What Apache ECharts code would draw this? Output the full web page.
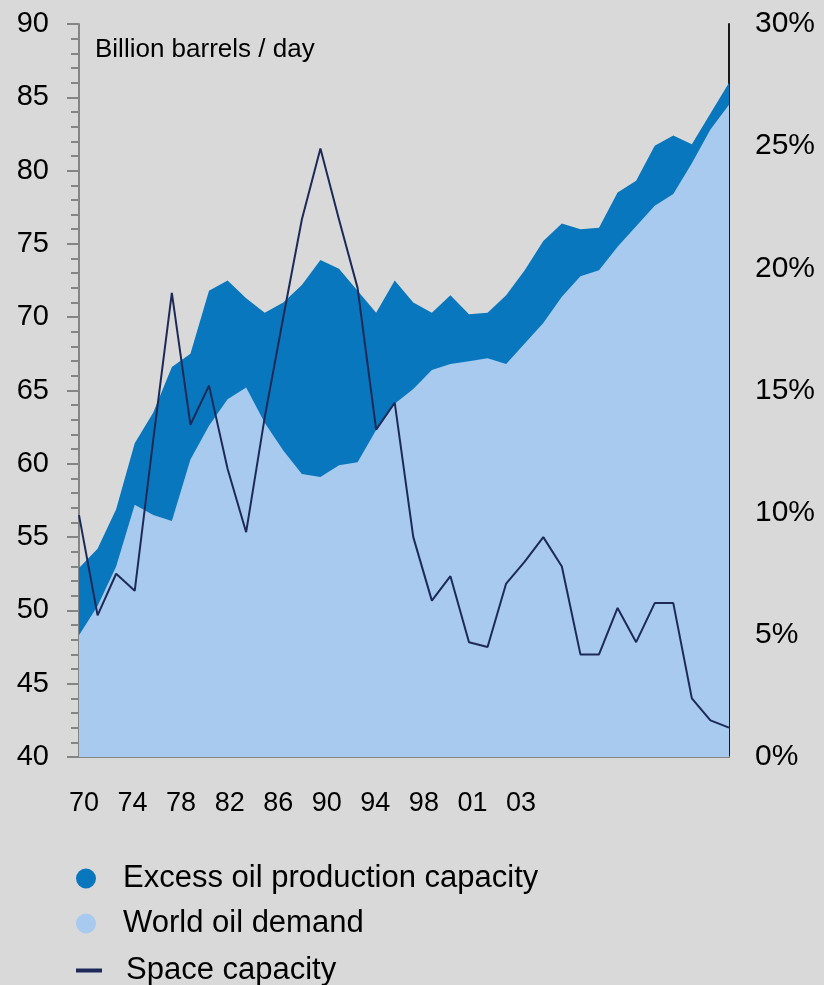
<!DOCTYPE html>
<html>
<head>
<meta charset="utf-8">
<script src="https://cdn.jsdelivr.net/npm/echarts@6/dist/echarts.min.js"></script>
<style>
  html, body { margin: 0; padding: 0; background: #d9d9d9; }
  #chart { width: 824px; height: 985px; }
</style>
</head>
<body>
<div id="chart"></div>
<script>
// yearly points 1970 - 2005
let years = [];
for (let y = 1970; y <= 2005; y++) years.push(String(y));

// world oil demand (left axis)
let demand = [48.3, 50.3, 53.0, 57.2, 56.5, 56.1, 60.3, 62.6, 64.4, 65.2,
    62.8, 60.9, 59.3, 59.1, 59.9, 60.1, 62.3, 64.1, 65.1, 66.4,
    66.8, 67.0, 67.2, 66.8, 68.2, 69.6, 71.4, 72.8, 73.2, 74.8,
    76.2, 77.6, 78.4, 80.5, 82.8, 84.5];

// top of the excess capacity band (demand + excess)
let capacity = [52.9, 54.2, 56.9, 61.4, 63.5, 66.6, 67.5, 71.8, 72.5, 71.3,
    70.3, 71.0, 72.2, 73.9, 73.3, 71.8, 70.3, 72.5, 71.0, 70.3,
    71.5, 70.2, 70.3, 71.5, 73.2, 75.2, 76.4, 76.0, 76.1, 78.5,
    79.3, 81.7, 82.4, 81.8, 83.9, 86.0];

// spare capacity, % (right axis)
let spare = [9.9, 5.8, 7.5, 6.8, 13.0, 19.0, 13.6, 15.2, 11.8, 9.2,
    13.9, 18.0, 22.0, 24.9, 22.0, 19.2, 13.4, 14.5, 9.0, 6.4,
    7.4, 4.7, 4.5, 7.1, 8.0, 9.0, 7.8, 4.2, 4.2, 6.1,
    4.7, 6.3, 6.3, 2.4, 1.5, 1.2];

let xTickLabels = ['70', '74', '78', '82', '86', '90', '94', '98', '01', '03'];

let legendNames = ['Excess oil production capacity', 'World oil demand', 'Space capacity'];

let colors = { excess: '#0877bd', demand: '#a8caef', line: '#1d2a58', axis: '#858585' };
let font = '"Liberation Sans", Arial, sans-serif';

let chart = echarts.init(document.getElementById('chart'));

// one legend per row, so nothing wraps
function legendRow(name, icon, top) {
    return {
        orient: 'vertical',
        left: 71,
        top: top,
        itemWidth: 26,
        itemHeight: 20,
        textStyle: { fontSize: 31, color: '#000', padding: [0, 0, 0, 19] },
        data: [{ name: name, icon: icon }]
    };
}

let option = {
    backgroundColor: '#d9d9d9',
    animation: false,
    textStyle: { fontFamily: font, color: '#000' },
    grid: [
        { left: 79, right: 95, top: 24, bottom: 228 },
        // only carries the evenly spaced year labels
        { left: 84, right: 303, top: 24, bottom: 228 }
    ],
    legend: [
        legendRow(legendNames[0], 'circle', 858),
        legendRow(legendNames[1], 'circle', 903),
        legendRow(legendNames[2], 'path://M0,0H26V4H0Z', 950)
    ],
    graphic: [{
        type: 'text',
        left: 95,
        top: 37,
        style: { text: 'Billion barrels / day', font: '26px ' + font, fill: '#000' }
    }],
    xAxis: [{
        type: 'category',
        gridIndex: 0,
        data: years,
        boundaryGap: false,
        axisLine: { lineStyle: { color: colors.axis, width: 2 } },
        axisTick: { show: false },
        axisLabel: { show: false }
    }, {
        type: 'category',
        gridIndex: 1,
        data: xTickLabels,
        boundaryGap: false,
        axisLine: { show: false },
        axisTick: { show: false },
        axisLabel: {
            interval: 0,
            margin: 33,
            fontSize: 27,
            fontFamily: '"Liberation Sans Narrow", "Arial Narrow", ' + font,
            color: '#000'
        }
    }],
    yAxis: [{
        type: 'value',
        gridIndex: 0,
        min: 40,
        max: 90,
        interval: 5,
        splitLine: { show: false },
        axisLine: { show: true, lineStyle: { color: colors.axis, width: 2 } },
        axisTick: { show: true, length: 12, lineStyle: { color: colors.axis, width: 2 } },
        minorTick: { show: true, splitNumber: 5, length: 8, lineStyle: { color: colors.axis, width: 2 } },
        axisLabel: { fontSize: 29, margin: 30, color: '#000' }
    }, {
        type: 'value',
        gridIndex: 0,
        position: 'right',
        min: 0,
        max: 30,
        interval: 5,
        splitLine: { show: false },
        axisLine: { show: true, lineStyle: { color: '#1a1a1a', width: 2 } },
        axisTick: { show: false },
        axisLabel: { fontSize: 30, margin: 26, color: '#000', formatter: '{value}%' }
    }, {
        type: 'value',
        gridIndex: 1,
        show: false
    }],
    series: [{
        name: legendNames[0],
        type: 'line',
        xAxisIndex: 0,
        yAxisIndex: 0,
        data: capacity,
        symbol: 'none',
        color: colors.excess,
        lineStyle: { width: 0 },
        areaStyle: { color: colors.excess, opacity: 1 },
        z: 1
    }, {
        name: legendNames[1],
        type: 'line',
        xAxisIndex: 0,
        yAxisIndex: 0,
        data: demand,
        symbol: 'none',
        color: colors.demand,
        lineStyle: { width: 0 },
        areaStyle: { color: colors.demand, opacity: 1 },
        z: 2
    }, {
        name: legendNames[2],
        type: 'line',
        xAxisIndex: 0,
        yAxisIndex: 1,
        data: spare,
        symbol: 'none',
        color: colors.line,
        lineStyle: { color: colors.line, width: 2 },
        z: 3
    }]
};

chart.setOption(option);
</script>
</body>
</html>
